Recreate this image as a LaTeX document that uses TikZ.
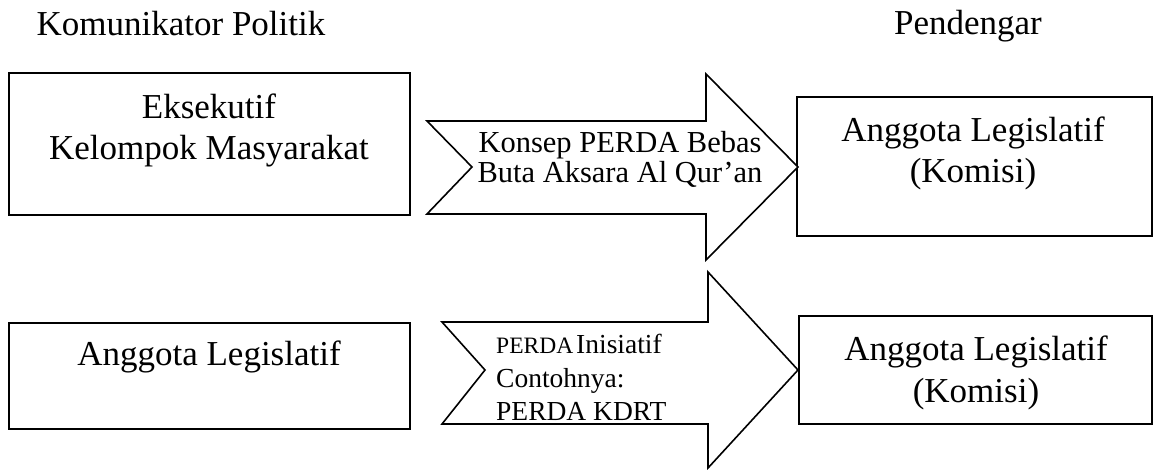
\documentclass[tikz,border=0pt]{standalone}
\usepackage{fontspec}
\setmainfont{Liberation Serif}
\begin{document}
\begin{tikzpicture}[x=1pt,y=-1pt,
  frame/.style={draw, line width=1.6pt, line join=miter, inner sep=0pt, outer sep=0pt, anchor=north west},
  arrowshape/.style={draw, line width=1.6pt, line join=miter, fill=white},
  big/.style={font=\fontsize{35}{41}\selectfont, anchor=base, inner sep=0pt},
  mid/.style={font=\fontsize{30.5}{30}\selectfont, anchor=base, inner sep=0pt},
  sml/.style={font=\fontsize{27.5}{30}\selectfont, anchor=base west, inner sep=0pt}]
\useasboundingbox (0,0) rectangle (1153,470);

% headers
\node[big] (hleft) at (181,36) {Komunikator Politik};
\node[big] (hright) at (968,35) {Pendengar};

% boxes
\node[frame, minimum width=401pt, minimum height=142pt] (exec) at (9,73) {};
\node[frame, minimum width=401pt, minimum height=106pt] (leg) at (9,323) {};
\node[frame, minimum width=355pt, minimum height=139pt] (kom1) at (797,97) {};
\node[frame, minimum width=353pt, minimum height=108pt] (kom2) at (799,316) {};

% arrows
\draw[arrowshape] (427,121) -- (706,121) -- (706,74) -- (798,167) -- (706,260)
  -- (706,214) -- (427,214) -- (472,167) -- cycle;
\draw[arrowshape] (442,322) -- (708,322) -- (708,272) -- (798,370) -- (708,468)
  -- (708,424) -- (442,424) -- (485,370) -- cycle;

% box texts
\node[big] (exec1) at (209,119) {Eksekutif};
\node[big] (exec2) at (209,160) {Kelompok Masyarakat};
\node[big] (leg1) at (209,365) {Anggota Legislatif};
\node[big] (kom1a) at (973,142) {Anggota Legislatif};
\node[big] (kom1b) at (973,183) {(Komisi)};
\node[big] (kom2a) at (976,360) {Anggota Legislatif};
\node[big] (kom2b) at (976,402) {(Komisi)};

% arrow texts
\node[mid] (a1a) at (620,153) {Konsep PERDA Bebas};
\node[mid] (a1b) at (620,183) {Buta Aksara Al Qur’an};
\node[sml] (a2a) at (496,353) {{\fontsize{23.5}{26}\selectfont PERDA}\hspace{3pt}Inisiatif};
\node[sml] (a2b) at (496,387) {Contohnya:};
\node[sml] (a2c) at (496,420) {PERDA KDRT};
\end{tikzpicture}
\end{document}
